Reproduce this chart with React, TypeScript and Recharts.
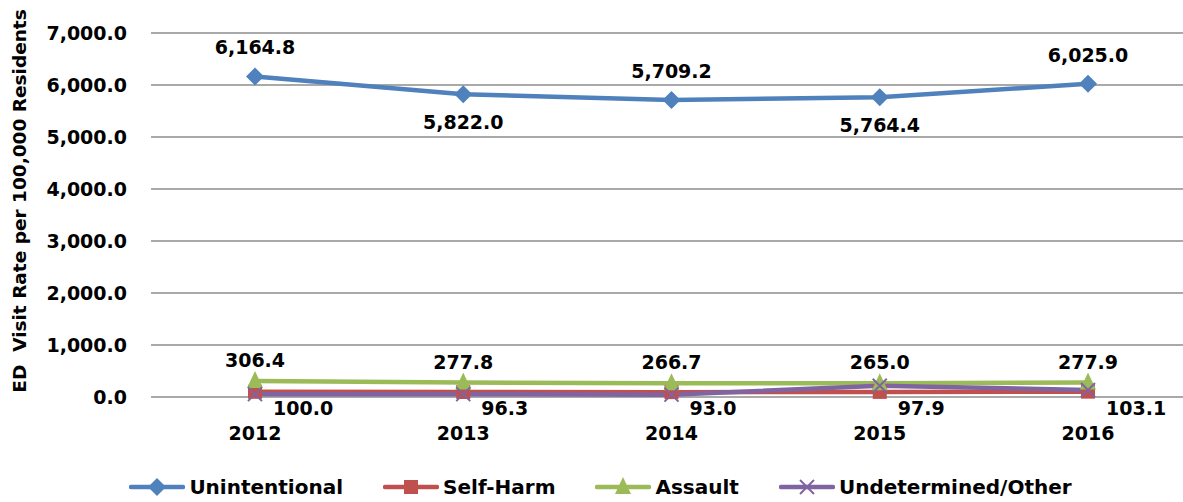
import React from 'react';
import { LineChart, Line, XAxis, YAxis, CartesianGrid, LabelList } from 'recharts';

const years = ['2012', '2013', '2014', '2015', '2016'];
const unintentional = [6164.8, 5822.0, 5709.2, 5764.4, 6025.0];
const selfHarm = [100.0, 96.3, 93.0, 97.9, 103.1];
const assault = [306.4, 277.8, 266.7, 265.0, 277.9];
const undetermined = [55, 55, 45, 215, 135];
const yTicks = [0, 1000, 2000, 3000, 4000, 5000, 6000, 7000];

const COLORS = {
  unintentional: '#4F81BD',
  selfHarm: '#C0504D',
  assault: '#9BBB59',
  undetermined: '#8064A2',
};

const FONT = '"DejaVu Sans", sans-serif';

const data = years.map((year, i) => ({
  year,
  unintentional: unintentional[i],
  selfHarm: selfHarm[i],
  assault: assault[i],
  undetermined: undetermined[i],
}));

const fmt = (v: number) =>
  v.toLocaleString('en-US', { minimumFractionDigits: 1, maximumFractionDigits: 1 });

// marker shapes
const Diamond = ({ cx, cy, size = 9 }: any) => (
  <path d={`M${cx},${cy - size}L${cx + size},${cy}L${cx},${cy + size}L${cx - size},${cy}Z`} fill={COLORS.unintentional} />
);
const Square = ({ cx, cy, size = 7 }: any) => (
  <rect x={cx - size} y={cy - size} width={size * 2} height={size * 2} fill={COLORS.selfHarm} />
);
const Triangle = ({ cx, cy, size = 8 }: any) => (
  <path d={`M${cx},${cy - size - 2}L${cx + size},${cy + size - 1}L${cx - size},${cy + size - 1}Z`} fill={COLORS.assault} />
);
const Cross = ({ cx, cy, size = 7 }: any) => (
  <path
    d={`M${cx - size},${cy - size}L${cx + size},${cy + size}M${cx + size},${cy - size}L${cx - size},${cy + size}`}
    stroke={COLORS.undetermined}
    strokeWidth={2}
  />
);

const labelStyle = { fontFamily: FONT, fontWeight: 'bold', fontSize: 19, fill: '#000' } as const;

const UnintentionalLabel = ({ x, y, value, index }: any) => (
  <text x={x} y={index % 2 === 0 ? y - 29 : y + 28} textAnchor="middle" dominantBaseline="central" {...labelStyle}>
    {fmt(value)}
  </text>
);
const AssaultLabel = ({ x, y, value }: any) => (
  <text x={x} y={y - 21} textAnchor="middle" dominantBaseline="central" {...labelStyle}>
    {fmt(value)}
  </text>
);
const SelfHarmLabel = ({ x, y, value }: any) => (
  <text x={x + 18} y={y + 16} textAnchor="start" dominantBaseline="central" {...labelStyle}>
    {fmt(value)}
  </text>
);

const YTitle = () => (
  <text
    x={19}
    y={201}
    transform="rotate(-90 19 201)"
    textAnchor="middle"
    dominantBaseline="central"
    style={{ whiteSpace: 'pre' }}
    fontFamily={FONT}
    fontWeight="bold"
    fontSize={18.5}
    fill="#000"
  >
    {'ED  Visit Rate per 100,000 Residents'}
  </text>
);

const legendItems = [
  { name: 'Unintentional', color: COLORS.unintentional, Marker: Diamond },
  { name: 'Self-Harm', color: COLORS.selfHarm, Marker: Square },
  { name: 'Assault', color: COLORS.assault, Marker: Triangle },
  { name: 'Undetermined/Other', color: COLORS.undetermined, Marker: Cross },
];

export default function App() {
  return (
    <div style={{ position: 'fixed', left: 0, top: 0, width: 1183, height: 502, overflow: 'hidden', background: '#fff' }}>
      <LineChart width={1192} height={502} data={data} margin={{ top: 33, right: 0, bottom: 50, left: 51 }}>
        <CartesianGrid vertical={false} stroke="#8c8c8c" strokeWidth={1.5} />
        <XAxis
          dataKey="year"
          axisLine={false}
          tickLine={false}
          tickSize={0}
          tickMargin={30}
          height={55}
          padding={{ left: 104, right: 104 }}
          tick={{ fontFamily: FONT, fontWeight: 'bold', fontSize: 19, fill: '#000' }}
        />
        <YAxis
          domain={[0, 7000]}
          ticks={yTicks}
          width={100}
          axisLine={false}
          tickLine={false}
          tickSize={0}
          tickMargin={24}
          tickFormatter={fmt}
          tick={{ fontFamily: FONT, fontWeight: 'bold', fontSize: 19, fill: '#000' }}
          label={{ content: () => <YTitle /> }}
        />
        <Line
          dataKey="unintentional"
          stroke={COLORS.unintentional}
          strokeWidth={4.5}
          isAnimationActive={false}
          dot={(p: any) => <Diamond key={`u-${p.index}`} cx={p.cx} cy={p.cy} />}
        >
          <LabelList dataKey="unintentional" content={<UnintentionalLabel />} />
        </Line>
        <Line
          dataKey="selfHarm"
          stroke={COLORS.selfHarm}
          strokeWidth={4.5}
          isAnimationActive={false}
          dot={(p: any) => <Square key={`s-${p.index}`} cx={p.cx} cy={p.cy} />}
        >
          <LabelList dataKey="selfHarm" content={<SelfHarmLabel />} />
        </Line>
        <Line
          dataKey="assault"
          stroke={COLORS.assault}
          strokeWidth={4.5}
          isAnimationActive={false}
          dot={(p: any) => <Triangle key={`a-${p.index}`} cx={p.cx} cy={p.cy} />}
        >
          <LabelList dataKey="assault" content={<AssaultLabel />} />
        </Line>
        <Line
          dataKey="undetermined"
          stroke={COLORS.undetermined}
          strokeWidth={4.5}
          isAnimationActive={false}
          dot={(p: any) => <Cross key={`d-${p.index}`} cx={p.cx} cy={p.cy} />}
        />
      </LineChart>

      {/* legend */}
      <div
        style={{
          position: 'absolute',
          top: 475,
          left: 0,
          width: 1183,
          height: 24,
          display: 'flex',
          justifyContent: 'center',
          alignItems: 'center',
          gap: 40,
          paddingLeft: 18,
          boxSizing: 'border-box',
        }}
      >
        {legendItems.map(({ name, color, Marker }) => (
          <div key={name} style={{ display: 'flex', alignItems: 'center' }}>
            <svg width={56} height={22}>
              <line x1={2} y1={11} x2={54} y2={11} stroke={color} strokeWidth={4.5} strokeLinecap="round" />
              <Marker cx={28} cy={11} />
            </svg>
            <span style={{ fontFamily: FONT, fontWeight: 'bold', fontSize: 20, color: '#000', marginLeft: 4, lineHeight: '24px' }}>
              {name}
            </span>
          </div>
        ))}
      </div>
    </div>
  );
}
